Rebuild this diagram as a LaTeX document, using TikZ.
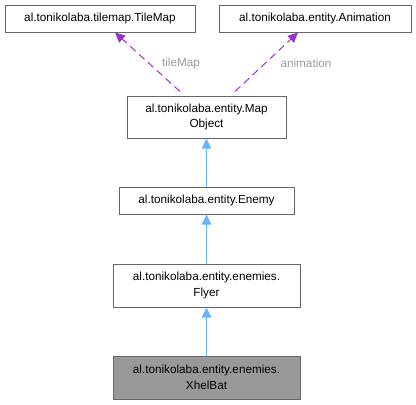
\documentclass[tikz,border=0pt]{standalone}
\usepackage{fontspec}
\setmainfont{Liberation Sans}
\usetikzlibrary{arrows.meta}
\definecolor{boxborder}{HTML}{666666}
\definecolor{inhblue}{HTML}{63B8FF}
\definecolor{usepurple}{HTML}{9A32CD}
\definecolor{lblgray}{HTML}{9A9A9A}
\definecolor{curfill}{HTML}{999999}
\begin{document}
\begin{tikzpicture}[x=0.75pt,y=-0.75pt,
  cls/.style={draw=boxborder,line width=0.75pt,fill=white,rectangle,inner sep=0pt,
    align=center,font=\fontsize{8.8}{11.6}\selectfont,text=black},
  inh/.style={draw=inhblue,line width=0.75pt,-{Triangle[length=7.5pt,width=7pt,fill=inhblue]}},
  usage/.style={draw=usepurple,line width=0.75pt,dash pattern=on 5.5pt off 3.5pt,
    -{Triangle[length=7.5pt,width=7pt,fill=usepurple]}},
  lbl/.style={font=\fontsize{8.8}{11.6}\selectfont,text=lblgray,inner sep=0pt}]
\useasboundingbox (0,0) rectangle (416,404);
\fill[white] (0,0) rectangle (416,404);
\node[cls,minimum width=190*0.75pt,minimum height=27*0.75pt] (tm) at (100,18.5) {al.tonikolaba.tilemap.TileMap};
\node[cls,minimum width=192*0.75pt,minimum height=27*0.75pt] (an) at (315,18.5) {al.tonikolaba.entity.Animation};
\node[cls,minimum width=159*0.75pt,minimum height=42*0.75pt] (mo) at (206.5,117) {al.tonikolaba.entity.Map\\Object};
\node[cls,minimum width=175*0.75pt,minimum height=27*0.75pt] (en) at (206.5,200.5) {al.tonikolaba.entity.Enemy};
\node[cls,minimum width=187*0.75pt,minimum height=43*0.75pt] (fl) at (206.5,285.5) {al.tonikolaba.entity.enemies.\\Flyer};
\node[cls,fill=curfill,minimum width=187*0.75pt,minimum height=43*0.75pt] (xb) at (206.5,377.5) {al.tonikolaba.entity.enemies.\\XhelBat};
\draw[inh] (xb.north) -- (fl.south);
\draw[inh] (fl.north) -- (en.south);
\draw[inh] (en.north) -- (mo.south);
\draw[usage] ([xshift=-26.5*0.75pt,yshift=4*0.75pt]mo.north) -- ([xshift=15*0.75pt]tm.south);
\draw[usage] ([xshift=28.5*0.75pt,yshift=4*0.75pt]mo.north) -- ([xshift=-17*0.75pt]an.south);
\node[lbl] (l1) at (181,63) {tileMap};
\node[lbl] (l2) at (306,63) {animation};
\end{tikzpicture}
\end{document}
